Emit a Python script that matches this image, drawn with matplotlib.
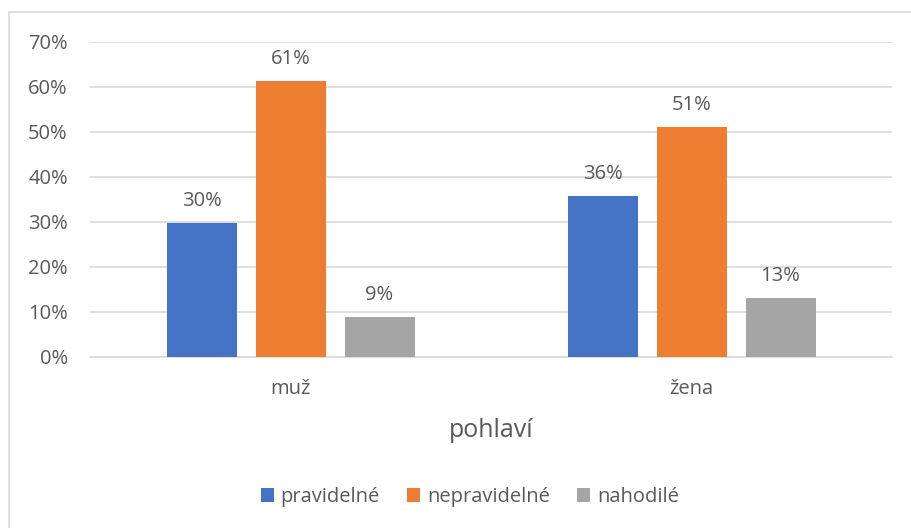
import numpy as np
import matplotlib.pyplot as plt
from matplotlib.patches import Rectangle

categories = ['muž', 'žena']
series_names = ['pravidelné', 'nepravidelné', 'nahodilé']
pravidelne = [29.7, 35.6]
nepravidelne = [61.3, 51.1]
nahodile = [8.8, 13.1]
labels = [['30%', '36%'], ['61%', '51%'], ['9%', '13%']]
colors = ['#4472C4', '#ED7D31', '#A5A5A5']

plt.rcParams['font.family'] = ['Open Sans', 'DejaVu Sans']
txt = '#595959'
fs = 14.5

fig = plt.figure(figsize=(9.11, 5.28), dpi=100)
# outer chart border
fig.patches.append(Rectangle((9 / 911, -0.1), 1.2, (528 - 12) / 528 + 0.1,
                             transform=fig.transFigure, fill=False,
                             edgecolor='#D9D9D9', linewidth=1.2))

ax = fig.add_axes([90 / 911, (528 - 356.7) / 528, (892 - 90) / 911, (356.7 - 41.5) / 528])

x = np.arange(len(categories))
w = 70 / 401
step = 89 / 401
data = [pravidelne, nepravidelne, nahodile]
for i, (vals, name) in enumerate(zip(data, series_names)):
    pos = x + (i - 1) * step
    ax.bar(pos, vals, width=w, color=colors[i], label=name, zorder=3)
    for p, v, lab in zip(pos, vals, labels[i]):
        ax.annotate(lab, (p, v), xytext=(0, 12), textcoords='offset pixels',
                    ha='center', va='bottom', fontsize=fs, color=txt)

ax.set_xlim(-0.5, 1.5)
ax.set_ylim(0, 70)
ax.set_yticks(range(0, 71, 10))
ax.set_yticklabels([f'{t}%' for t in range(0, 71, 10)])
ax.set_xticks(x)
ax.set_xticklabels(categories)
ax.grid(axis='y', color='#D9D9D9', linewidth=1.2, zorder=0)
for s in ['top', 'right', 'left']:
    ax.spines[s].set_visible(False)
ax.spines['bottom'].set_color('#D9D9D9')
ax.spines['bottom'].set_linewidth(1.2)
ax.tick_params(axis='both', length=0, labelsize=fs, labelcolor=txt)
ax.tick_params(axis='y', pad=16)
ax.tick_params(axis='x', pad=16)
ax.set_xlabel('pohlaví', fontsize=18, color=txt, labelpad=14)

ax.legend(loc='center', bbox_to_anchor=(470 / 911, (528 - 497) / 528),
          bbox_transform=fig.transFigure, ncol=3, frameon=False,
          fontsize=fs, handlelength=0.65, handleheight=0.65,
          handletextpad=0.35, columnspacing=1.35, labelcolor=txt)

fig.savefig('out.png', dpi=100)
